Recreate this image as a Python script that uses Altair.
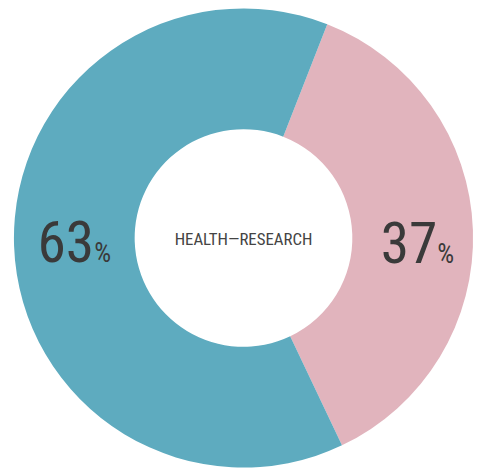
import math
import altair as alt
import pandas as pd

categories = ["Research", "Health"]
values = [37, 63]
colors = ["#e1b4bd", "#5eabbf"]
number_labels = ["37", "63"]
center_label = ["HEALTH—RESEARCH"]

df = pd.DataFrame({
    "category": categories,
    "value": values,
    "order": [0, 1],
    "num": number_labels,
    "pct": ["%", "%"],
})

start = 0.3735
FONT = ("Roboto Condensed, Noto Sans Condensed, Open Sans Condensed, "
        "Liberation Sans Narrow, DejaVu Sans Condensed, sans-serif")
INK = "#3a3a3a"

base = alt.Chart(df).encode(
    theta=alt.Theta("value:Q", stack=True,
                    scale=alt.Scale(range=[start, start + 2 * math.pi])),
    order=alt.Order("order:Q", sort="ascending"),
)

arcs = base.mark_arc(innerRadius=110, outerRadius=232, strokeWidth=0).encode(
    color=alt.Color("category:N",
                    scale=alt.Scale(domain=categories, range=colors),
                    legend=None)
)


def label_layers(cat, dy, shift):
    num = base.mark_text(radius=172, align="right", baseline="alphabetic",
                         dx=17 + shift, dy=dy, font=FONT, fontSize=58,
                         color=INK).encode(
        text=alt.condition(alt.datum.category == cat, "num:N", alt.value(""))
    )
    pct = base.mark_text(radius=172, align="left", baseline="alphabetic",
                         dx=17 + shift, dy=dy, font=FONT, fontSize=27,
                         color=INK).encode(
        text=alt.condition(alt.datum.category == cat, "pct:N", alt.value(""))
    )
    return [num, pct]


center = alt.Chart(pd.DataFrame({"t": center_label})).mark_text(
    font=FONT, fontSize=17, color="#444444", baseline="middle", dy=2
).encode(text="t:N")

chart = alt.layer(
    arcs,
    *label_layers("Research", 31, 7),
    *label_layers("Health", 18, 4),
    center,
).properties(
    width=476, height=460, padding=0,
    autosize=alt.AutoSizeParams(type="none"),
    background="#ffffff",
).configure_view(stroke=None)

chart.save("out.html", embed_options={"renderer": "svg", "actions": False})
